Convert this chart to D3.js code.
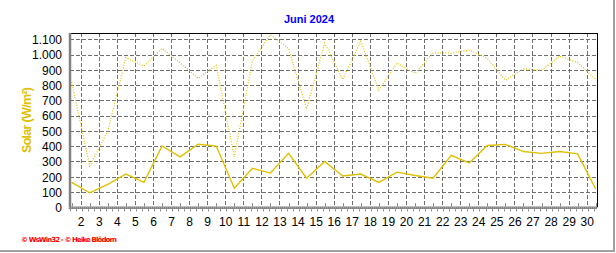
<!DOCTYPE html>
<html><head><meta charset="utf-8">
<script src="https://cdn.jsdelivr.net/npm/d3@7"></script>
<style>
html,body{margin:0;padding:0;background:#fff;}
svg{display:block;}
</style></head>
<body>
<svg id="c" width="616" height="253"></svg>
<script>
// ---- data ----
const days = d3.range(1, 31);
const maxSolar = [820, 270, 500, 980, 925, 1040, 945, 845, 930, 330,
                  958, 1130, 1040, 645, 1076, 837, 1087, 767, 945, 876,
                  1012, 1010, 1028, 976, 832, 906, 897, 990, 948, 837];
const meanSolar = [163, 95, 150, 218, 163, 402, 330, 413, 401, 125,
                   255, 224, 354, 190, 300, 205, 218, 163, 230, 208,
                   190, 340, 290, 405, 412, 365, 353, 365, 350, 120];
const yTicks = [0, 100, 200, 300, 400, 500, 600, 700, 800, 900, 1000, 1100];
const xTickLabels = d3.range(2, 31);
const title = "Juni 2024";
const yLabel = "Solar  (W/m²)";
const footer = "© WsWin32  -  © Heike Blödorn";

// ---- layout ----
const svg = d3.select("#c");
const L = 70, R = 597, T = 33, B = 207.3;
const x = d3.scaleLinear().domain([1.5, 29.5]).range([80.7, 586.7]);
const y = d3.scaleLinear().domain([0, 1100]).range([B, 39.3]);
const gold = "#e0c000";

// outer frame (right / bottom gray)
svg.append("line").attr("x1", 614).attr("x2", 614).attr("y1", 0).attr("y2", 252)
  .attr("stroke", "#a0a0a0").attr("stroke-width", 2);
svg.append("line").attr("x1", 0).attr("x2", 615).attr("y1", 251).attr("y2", 251)
  .attr("stroke", "#a0a0a0").attr("stroke-width", 2);

// title
svg.append("text").attr("x", 309).attr("y", 22.5).attr("text-anchor", "middle")
  .attr("font-family", "Liberation Sans, Arial, sans-serif").attr("font-weight", "bold")
  .attr("font-size", 11).attr("fill", "#0000ff").text(title);

// grid
const grid = svg.append("g").attr("stroke", "#707070").attr("stroke-width", 1)
  .attr("stroke-dasharray", "4,2");
grid.selectAll("line.h").data(yTicks.filter(d => d > 0)).join("line")
  .attr("x1", L).attr("x2", R)
  .attr("y1", d => Math.round(y(d)) + 0.5).attr("y2", d => Math.round(y(d)) + 0.5);
grid.selectAll("line.v").data(xTickLabels).join("line")
  .attr("x1", d => Math.round(x(d - 0.5)) + 0.5).attr("x2", d => Math.round(x(d - 0.5)) + 0.5)
  .attr("y1", T).attr("y2", B);

// frame top/right black
svg.append("line").attr("x1", L).attr("x2", R + 0.5).attr("y1", T + 0.5).attr("y2", T + 0.5)
  .attr("stroke", "#000").attr("stroke-width", 1);
svg.append("line").attr("x1", R + 0.5).attr("x2", R + 0.5).attr("y1", T).attr("y2", B)
  .attr("stroke", "#000").attr("stroke-width", 1);

// lines
const lineGen = d3.line().x((d, i) => x(days[i])).y(d => y(d));
svg.append("path").datum(maxSolar).attr("d", lineGen).attr("fill", "none")
  .attr("stroke", gold).attr("stroke-width", 1.2).attr("stroke-dasharray", "1,1.6");
svg.append("path").datum(meanSolar).attr("d", lineGen).attr("fill", "none")
  .attr("stroke", gold).attr("stroke-width", 1.4);

// y axis
svg.append("line").attr("x1", L).attr("x2", L).attr("y1", T).attr("y2", B + 2)
  .attr("stroke", "#808080").attr("stroke-width", 2.5);
const yAxis = d3.axisLeft(y).tickValues(yTicks).tickSize(0).tickPadding(7)
  .tickFormat(d => d3.format(",")(d).replace(/,/g, "."));
const ya = svg.append("g").attr("transform", `translate(${L - 1},0)`).call(yAxis);
ya.select(".domain").remove();
ya.selectAll("text").attr("font-family", "Liberation Sans, Arial, sans-serif")
  .attr("font-size", 12).attr("fill", "#000").attr("dy", "0.36em");

// x axis
svg.append("line").attr("x1", L - 1).attr("x2", R).attr("y1", B + 0.5).attr("y2", B + 0.5)
  .attr("stroke", "#808080").attr("stroke-width", 2.5);
svg.append("line").attr("x1", L - 1).attr("x2", R).attr("y1", B + 0.5).attr("y2", B + 0.5)
  .attr("stroke", gold).attr("stroke-width", 1).attr("stroke-dasharray", "1,1");
// small ticks inside at day points
svg.append("g").selectAll("line").data(days).join("line")
  .attr("x1", d => Math.round(x(d)) + 0.5).attr("x2", d => Math.round(x(d)) + 0.5)
  .attr("y1", B - 4).attr("y2", B - 1).attr("stroke", "#808080");
// minor ticks below
const minor = d3.range(0.9, 30.1, 1 / 3);
svg.append("g").selectAll("line").data(minor).join("line")
  .attr("x1", d => Math.round(x(d)) + 0.5).attr("x2", d => Math.round(x(d)) + 0.5)
  .attr("y1", B + 2).attr("y2", B + 4).attr("stroke", "#808080");
const xAxis = d3.axisBottom(x).tickValues(xTickLabels.map(d => d - 0.5))
  .tickSize(0).tickPadding(10).tickFormat((d, i) => xTickLabels[i]);
const xa = svg.append("g").attr("transform", `translate(0,${B})`).call(xAxis);
xa.select(".domain").remove();
xa.selectAll("text").attr("font-family", "Liberation Sans, Arial, sans-serif")
  .attr("font-size", 12).attr("fill", "#000");

// y label
svg.append("text").attr("transform", "translate(31,120) rotate(-90)")
  .attr("text-anchor", "middle").attr("font-family", "Liberation Sans, Arial, sans-serif")
  .attr("font-weight", "bold").attr("font-size", 12.5).attr("fill", gold)
  .attr("textLength", 66).text(yLabel);

// footer
svg.append("text").attr("x", 21).attr("y", 242).attr("font-family", "DejaVu Sans, sans-serif")
  .attr("font-weight", "bold").attr("font-size", 7).attr("fill", "#ff0000")
  .attr("textLength", 96).text(footer);
</script>
</body></html>
